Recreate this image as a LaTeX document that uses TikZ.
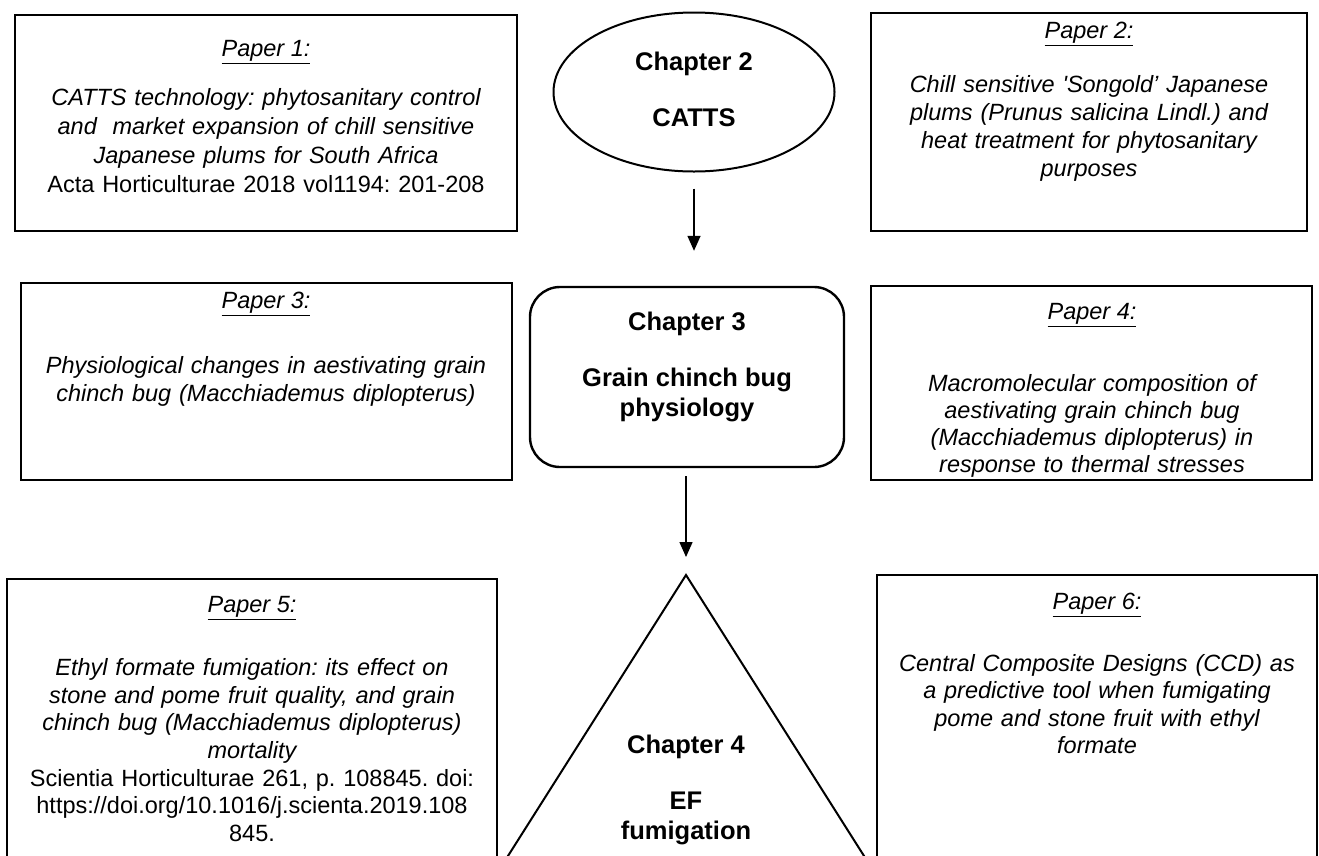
\documentclass[tikz,border=0pt]{standalone}
\usepackage{fontspec}
\setmainfont{Liberation Sans}
\usetikzlibrary{shapes.geometric,arrows.meta}
\frenchspacing
\begin{document}
\begin{tikzpicture}[x=1pt,y=-1pt,
  paperbox/.style={draw=black,line width=2pt,inner sep=0pt,rectangle},
  chapbox/.style={draw=black,line width=2.4pt,inner sep=0pt,rectangle,rounded corners=30pt},
  chapell/.style={draw=black,line width=2pt,inner sep=0pt,ellipse},
  plabel/.style={font=\fontsize{23.5}{28}\selectfont\itshape,inner sep=0pt},
  ptext/.style={font=\fontsize{23.5}{28}\selectfont,text width=480pt,align=center,inner sep=0pt},
  ctext/.style={font=\fontsize{25.5}{29}\selectfont\bfseries,inner sep=0pt},
  arr/.style={line width=1.4pt,-{Triangle[length=15pt,width=13pt]}}]
\clip (0,0) rectangle (1319,855);
\fill[white] (0,0) rectangle (1319,855);

% boxes
\node[paperbox,minimum width=502pt,minimum height=216pt] (b1) at (266,123) {};
\node[paperbox,minimum width=436pt,minimum height=218pt] (b2) at (1089,122) {};
\node[paperbox,minimum width=491pt,minimum height=197pt] (b3) at (266.5,381.5) {};
\node[chapbox,minimum width=314pt,minimum height=180pt] (ch3) at (687,377) {};
\node[paperbox,minimum width=441pt,minimum height=194pt] (b4) at (1091.5,383) {};
\node[paperbox,minimum width=490pt,minimum height=321pt] (b5) at (252,739.5) {};
\node[paperbox,minimum width=440pt,minimum height=325pt] (b6) at (1097,737.5) {};
\node[chapell,minimum width=281pt,minimum height=159pt] (ch2) at (694,92) {};

% triangle
\coordinate (apex) at (686,575);
\coordinate (tl) at (494,878);
\coordinate (tr) at (878,878);
\draw[line width=2pt,line join=miter] (tl) -- (apex) -- (tr);

% arrows
\draw[arr,shorten <=16pt,shorten >=35pt] (ch2.south) -- (ch2.south |- ch3.north);
\draw[arr,shorten <=8pt,shorten >=18pt] (ch3.south -| apex) -- (apex);

% Paper 1
\node[plabel] (l1) at (266,52) {\underline{Paper 1:}};
\node[ptext,font=\fontsize{23.5}{29}\selectfont] (t1) at (266,141) {\itshape CATTS technology: phytosanitary control\\
  and\ \ market expansion of chill sensitive\\
  Japanese plums for South Africa\\
  \upshape Acta Horticulturae 2018 vol1194: 201-208};

% Paper 2
\node[plabel] (l2) at (1089,34) {\underline{Paper 2:}};
\node[ptext,text width=430pt] (t2) at (1089,128.5) {\itshape Chill sensitive \textquotesingle Songold’ Japanese\\
  plums (Prunus salicina Lindl.) and\\
  heat treatment for phytosanitary\\
  purposes};

% Paper 3
\node[plabel] (l3) at (266,304) {\underline{Paper 3:}};
\node[ptext] (t3) at (266,381) {\itshape Physiological changes in aestivating grain\\
  chinch bug (Macchiademus diplopterus)};

% Paper 4
\node[plabel] (l4) at (1092,315) {\underline{Paper 4:}};
\node[ptext,text width=430pt,font=\fontsize{23.5}{27}\selectfont] (t4) at (1092,426) {\itshape Macromolecular composition of\\
  aestivating grain chinch bug\\
  (Macchiademus diplopterus) in\\
  response to thermal stresses};

% Paper 5
\node[plabel] (l5) at (252,608) {\underline{Paper 5:}};
\node[ptext,font=\fontsize{23.5}{27.7}\selectfont] (t5) at (252,750) {\itshape Ethyl formate fumigation: its effect on\\
  stone and pome fruit quality, and grain\\
  chinch bug (Macchiademus diplopterus)\\
  mortality\\
  \upshape Scientia Horticulturae 261, p. 108845. doi:\\
  https://doi.org/10.1016/j.scienta.2019.108\\
  845.};

% Paper 6
\node[plabel] (l6) at (1097,605) {\underline{Paper 6:}};
\node[ptext,text width=430pt,font=\fontsize{23.5}{27.3}\selectfont] (t6) at (1097,704) {\itshape Central Composite Designs (CCD) as\\
  a predictive tool when fumigating\\
  pome and stone fruit with ethyl\\
  formate};

% chapter texts
\node[ctext] (c2a) at (694,64) {Chapter 2};
\node[ctext] (c2b) at (694,118) {CATTS};
\node[ctext] (c3a) at (687,324) {Chapter 3};
\node[ctext] (c3b) at (687,380) {Grain chinch bug};
\node[ctext] (c3c) at (687,410) {physiology};
\node[ctext] (c4a) at (686,747) {Chapter 4};
\node[ctext] (c4b) at (686,801) {EF};
\node[ctext] (c4c) at (686,833) {fumigation};
\end{tikzpicture}
\end{document}
